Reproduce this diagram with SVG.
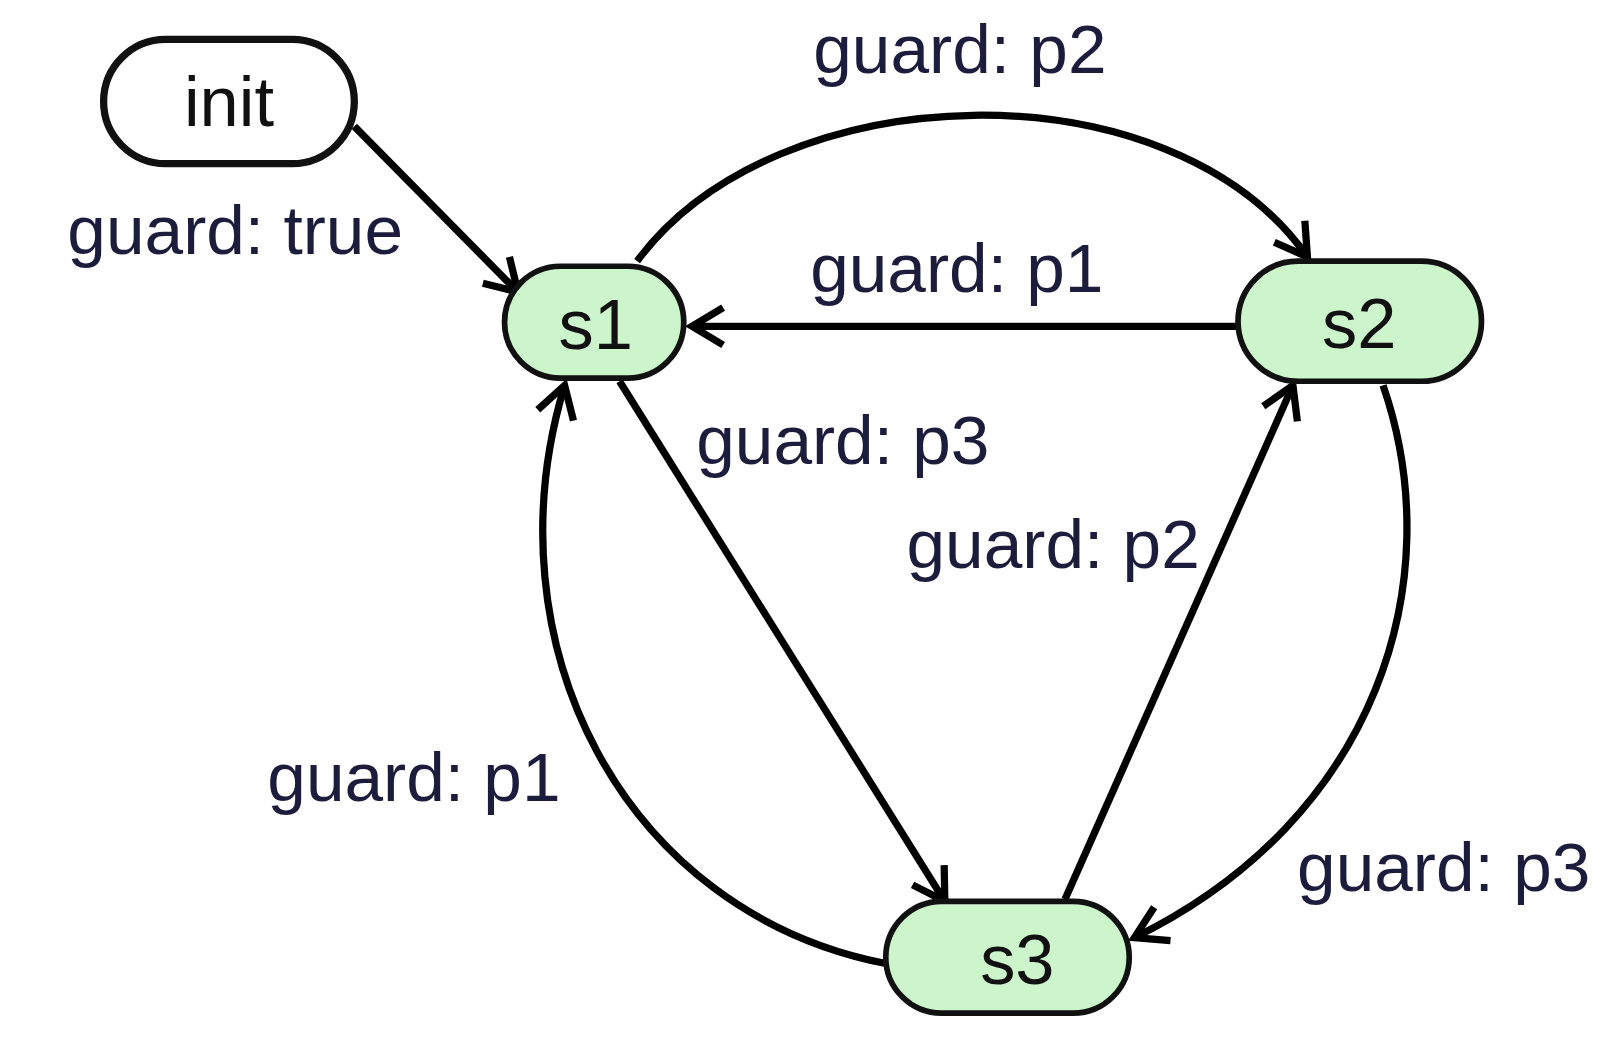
<svg xmlns="http://www.w3.org/2000/svg" width="1622" height="1040" viewBox="0 0 1622 1040">
<style>
.lbl{font-family:"Liberation Sans",Arial,sans-serif;font-size:67px;fill:#1c1c3c}
.nt{font-family:"Liberation Sans",Arial,sans-serif;font-size:68px;fill:#111;text-anchor:middle;dominant-baseline:central}
.st{fill:#ccf5cc;stroke:#111;stroke-width:5.5}
.e{fill:none;stroke:#000;stroke-width:7;marker-end:url(#ah)}
</style>
<defs>
<marker id="ah" markerUnits="userSpaceOnUse" markerWidth="60" markerHeight="60" refX="40" refY="30" orient="auto">
<path d="M10,12 L40,30 L10,48" fill="none" stroke="#000" stroke-width="7"/>
</marker>
</defs>
<rect width="1622" height="1040" fill="#fff"/>
<g transform="scale(1.036)">
<g id="connectors">
<path class="e" d="M342,122 L500,282"/>
<path class="e" d="M615,252 C750,70 1130,60 1262,248"/>
<path class="e" d="M1195,315 L668,315"/>
<path class="e" d="M598,368 L912,870"/>
<path class="e" d="M1028,868 L1248,372"/>
<path class="e" d="M1335,372 C1400,560 1330,790 1095,905"/>
<path class="e" d="M855,930 C600,880 470,620 545,372"/>
</g>
<g id="labels">
<text class="lbl" x="785" y="70">guard: p2</text>
<text class="lbl" x="65" y="245">guard: true</text>
<text class="lbl" x="782" y="282">guard: p1</text>
<text class="lbl" x="672" y="448">guard: p3</text>
<text class="lbl" x="875" y="548">guard: p2</text>
<text class="lbl" x="258" y="773">guard: p1</text>
<text class="lbl" x="1252" y="860">guard: p3</text>
</g>
<g id="init"><rect x="100" y="38" width="242" height="120" rx="60" fill="#fff" stroke="#111" stroke-width="7"/><text class="nt" x="221" y="98">init</text></g>
<g id="s1"><rect class="st" x="487" y="257" width="173" height="108" rx="54"/><text class="nt" x="575" y="313">s1</text></g>
<g id="s2"><rect class="st" x="1195" y="252" width="235" height="116" rx="58"/><text class="nt" x="1312" y="312">s2</text></g>
<g id="s3"><rect class="st" x="855" y="870" width="235" height="108" rx="54"/><text class="nt" x="982" y="926">s3</text></g>
</g>
</svg>
